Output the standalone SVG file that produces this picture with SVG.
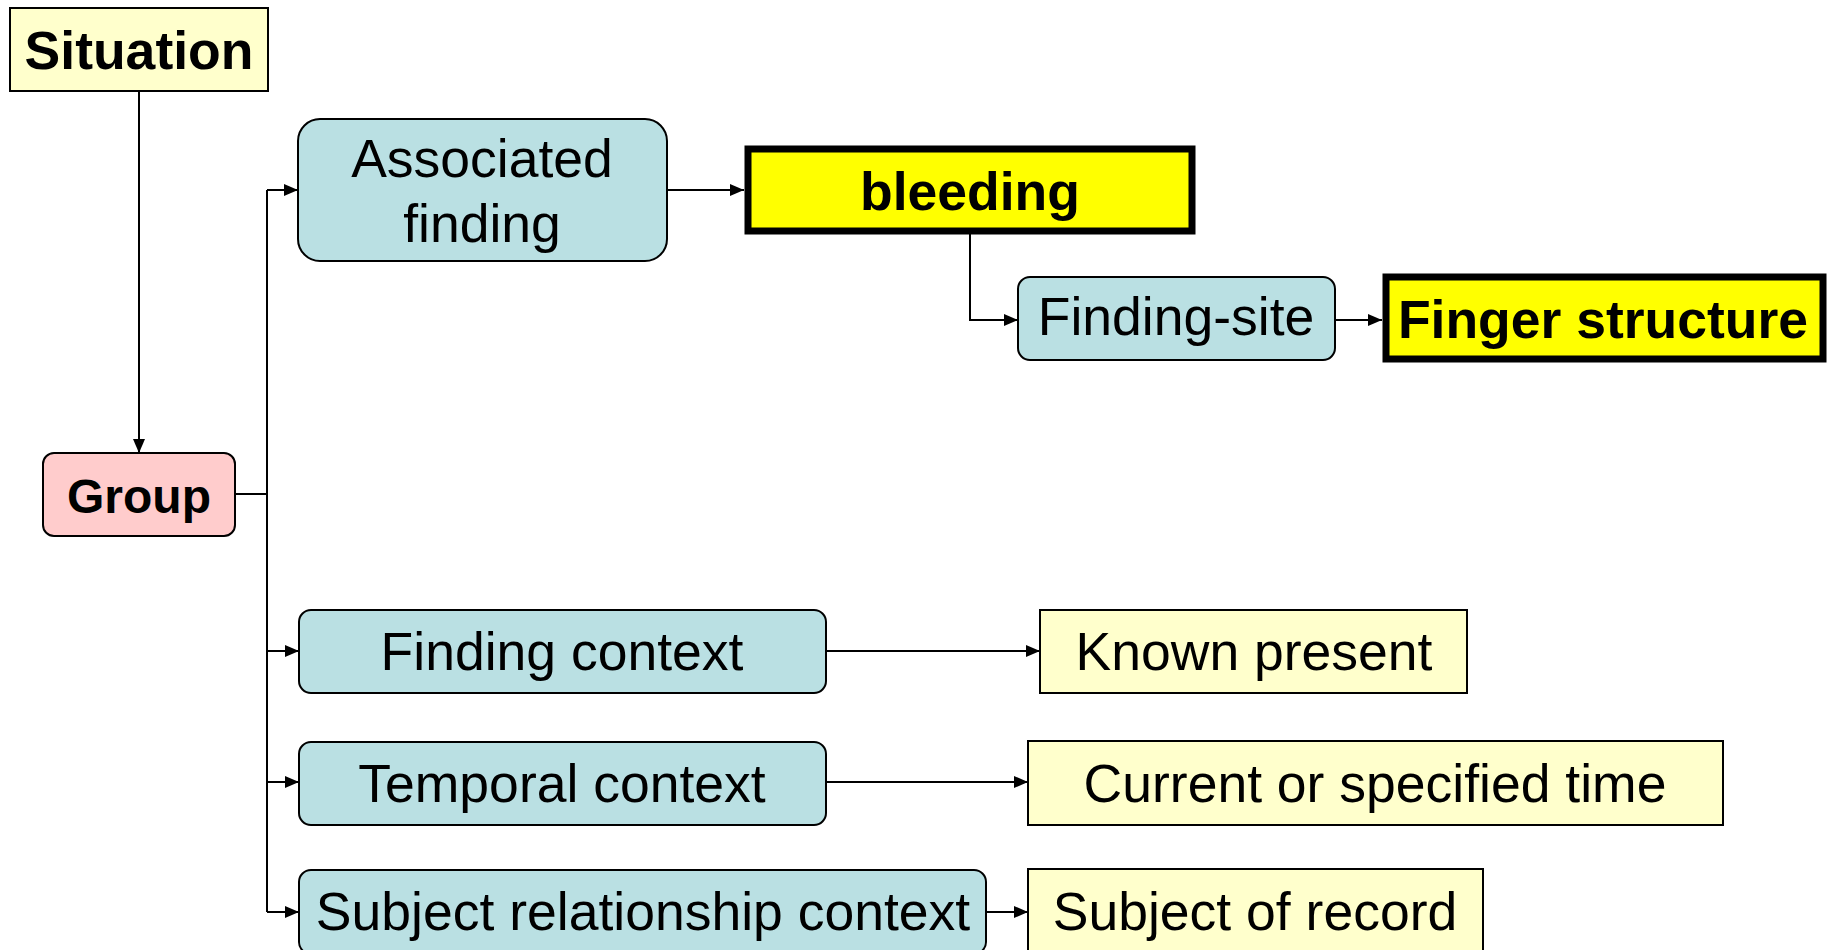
<svg xmlns="http://www.w3.org/2000/svg" width="1827" height="950" viewBox="0 0 1827 950">
<style>
  .t { font-family: "Liberation Sans", Arial, sans-serif; font-size: 53.5px; fill: #000; text-anchor: middle; }
  .b { font-weight: bold; }
  .teal { fill: #BAE0E3; stroke: #000; stroke-width: 2; }
  .pale { fill: #FFFFCC; stroke: #000; stroke-width: 2; }
  .pink { fill: #FFCCCC; stroke: #000; stroke-width: 2; }
  .hot { fill: #FFFF00; stroke: #000; stroke-width: 7; }
  .c { fill: none; stroke: #000; stroke-width: 2; }
</style>
<defs>
  <marker id="ah" viewBox="0 0 14 12" refX="14" refY="6" markerWidth="14" markerHeight="12" markerUnits="userSpaceOnUse" orient="auto">
    <path d="M0,0 L14,6 L0,12 Z" fill="#000"/>
  </marker>
</defs>
<rect width="1827" height="950" fill="#fff"/>
<g id="connectors">
  <path class="c" d="M139,91 V453" marker-end="url(#ah)"/>
  <path class="c" d="M235,494 H267"/>
  <path class="c" d="M267,190 V912"/>
  <path class="c" d="M267,190 H298" marker-end="url(#ah)"/>
  <path class="c" d="M267,651 H299" marker-end="url(#ah)"/>
  <path class="c" d="M267,782 H299" marker-end="url(#ah)"/>
  <path class="c" d="M267,912 H299" marker-end="url(#ah)"/>
  <path class="c" d="M667,190 H744" marker-end="url(#ah)"/>
  <path class="c" d="M970,234 V320 H1018" marker-end="url(#ah)"/>
  <path class="c" d="M1335,320 H1382" marker-end="url(#ah)"/>
  <path class="c" d="M826,651 H1040" marker-end="url(#ah)"/>
  <path class="c" d="M826,782 H1028" marker-end="url(#ah)"/>
  <path class="c" d="M986,912 H1028" marker-end="url(#ah)"/>
</g>
<g id="situation">
  <rect class="pale" x="10" y="8" width="258" height="83"/>
  <text class="t b" x="139" y="69">Situation</text>
</g>
<g id="group">
  <rect class="pink" x="43" y="453" width="192" height="83" rx="11"/>
  <text class="t b" x="139" y="513" style="font-size:48px">Group</text>
</g>
<g id="associated-finding">
  <rect class="teal" x="298" y="119" width="369" height="142" rx="22"/>
  <text class="t" x="482" y="177">Associated</text>
  <text class="t" x="482" y="242">finding</text>
</g>
<g id="bleeding">
  <rect class="hot" x="748" y="149" width="444" height="82"/>
  <text class="t b" x="970" y="210">bleeding</text>
</g>
<g id="finding-site">
  <rect class="teal" x="1018" y="277" width="317" height="83" rx="12"/>
  <text class="t" x="1176" y="335">Finding-site</text>
</g>
<g id="finger-structure">
  <rect class="hot" x="1386" y="277" width="437" height="82"/>
  <text class="t b" x="1603" y="338">Finger structure</text>
</g>
<g id="finding-context">
  <rect class="teal" x="299" y="610" width="527" height="83" rx="12"/>
  <text class="t" x="562" y="670">Finding context</text>
</g>
<g id="known-present">
  <rect class="pale" x="1040" y="610" width="427" height="83"/>
  <text class="t" x="1254" y="670">Known present</text>
</g>
<g id="temporal-context">
  <rect class="teal" x="299" y="742" width="527" height="83" rx="12"/>
  <text class="t" x="562" y="802">Temporal context</text>
</g>
<g id="current-time">
  <rect class="pale" x="1028" y="741" width="695" height="84"/>
  <text class="t" x="1375" y="802">Current or specified time</text>
</g>
<g id="subject-relationship-context">
  <rect class="teal" x="299" y="870" width="687" height="84" rx="12"/>
  <text class="t" x="643" y="930">Subject relationship context</text>
</g>
<g id="subject-of-record">
  <rect class="pale" x="1028" y="869" width="455" height="85"/>
  <text class="t" x="1255" y="930">Subject of record</text>
</g>
</svg>
